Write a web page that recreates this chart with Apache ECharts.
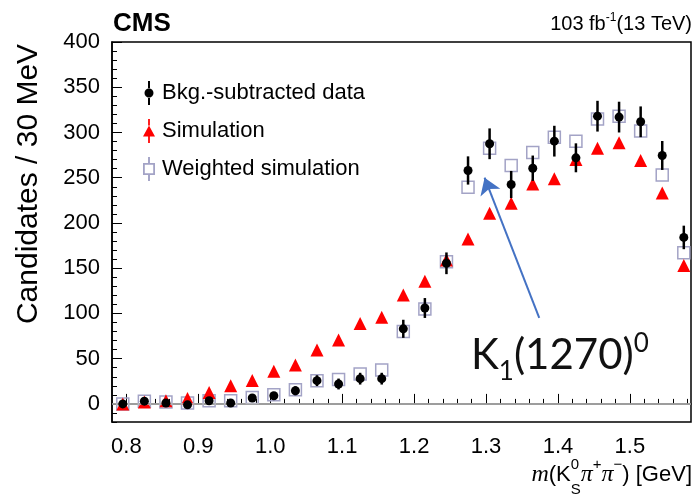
<!DOCTYPE html>
<html>
<head>
<meta charset="utf-8">
<script src="https://cdn.jsdelivr.net/npm/echarts@6/dist/echarts.min.js"></script>
<style>
  html, body { margin: 0; padding: 0; background: #fff; }
  #chart { width: 695px; height: 502px; }
</style>
</head>
<body>
<div id="chart"></div>
<script>
// bin centres, 30 MeV bins
var massBins = [0.795, 0.825, 0.855, 0.885, 0.915, 0.945, 0.975, 1.005, 1.035, 1.065, 1.095, 1.125, 1.155, 1.185,
  1.215, 1.245, 1.275, 1.305, 1.335, 1.365, 1.395, 1.425, 1.455, 1.485, 1.515, 1.545, 1.575]
// background-subtracted data + errors
var dataVals = [0, 3, 1, -1, 3.5, 1, 6.5, 9, 14.6, 25.7, 22, 27.9, 27.9, 83, 106, 155.4,
  258, 287.5, 242.5, 260.5, 290.4, 272, 318, 317, 311.8, 274.6, 184]
var dataErr = [4, 4, 4, 4, 4, 4, 4, 4, 5, 6, 6, 6.5, 6.5, 10, 11, 12,
  15.6, 17, 15, 14, 17, 16, 17, 17, 17, 16, 13]
// simulation
var simVals = [0, 2, 3.5, 6, 12.7, 20, 26, 36, 43, 59.6, 70.7, 89, 95.7, 120.5, 135.5, 159,
  182.4, 210.7, 221.8, 243, 248.8, 270, 282.6, 288.6, 269, 233, 153]
// weighted simulation
var weightedVals = [0, 3, 2, 1, 3.5, 3.5, 7, 10, 15.6, 25.7, 27, 33, 37.5, 80, 105, 157,
  239.5, 282.6, 263.5, 278, 294.8, 290.4, 315, 318, 301.5, 253, 167]

var xMajorTicks = [0.8, 0.9, 1.0, 1.1, 1.2, 1.3, 1.4, 1.5]
var yMajorTicks = [0, 50, 100, 150, 200, 250, 300, 350, 400]

var FONT = '"Liberation Sans", Arial, sans-serif'
var SERIF = '"Liberation Serif", "Times New Roman", serif'

function pts(vals) {
  return massBins.map(function (m, i) { return [m, vals[i]] })
}

// legend icons (12 x 24 box)
var iconData = 'path://M5,0H7V8H5Z M5,16H7V24H5Z M1.5,12A4.5,4.5 0 1,0 10.5,12A4.5,4.5 0 1,0 1.5,12Z'
var iconSim = 'path://M5.2,1H6.8V7H5.2Z M0.5,17L6,7L11.5,17Z M5.2,17H6.8V23H5.2Z'
var iconWeighted = 'path://M1,7H11V8.5H1Z M1,15.5H11V17H1Z M1,7H2.5V17H1Z M9.5,7H11V17H9.5Z M5.2,2H6.8V7H5.2Z M5.2,17H6.8V22H5.2Z'

var chart = echarts.init(document.getElementById('chart'))

chart.setOption({
  animation: false,
  grid: { left: 112, right: 4, top: 42, bottom: 80, show: true, borderColor: '#000', borderWidth: 1.5 },
  legend: {
    orient: 'vertical',
    left: 138,
    top: 76,
    itemWidth: 12,
    itemHeight: 24,
    itemGap: 14,
    selectedMode: false,
    textStyle: { fontSize: 22, color: '#000', fontFamily: FONT, padding: [0, 0, 0, 2] },
    data: [
      { name: 'Bkg.-subtracted data', icon: iconData },
      { name: 'Simulation', icon: iconSim },
      { name: 'Weighted simulation', icon: iconWeighted, itemStyle: { color: '#a3a3c6', borderWidth: 0 } }
    ]
  },
  xAxis: [
    {
      type: 'value',
      min: 0.78,
      max: 1.585,
      interval: 0.02,
      axisLine: { lineStyle: { color: '#000', width: 1.5 } },
      axisTick: { inside: true, length: 5, lineStyle: { color: '#000' } },
      splitLine: { show: false },
      axisLabel: {
        margin: 14, fontSize: 22, color: '#000', fontFamily: FONT,
        showMinLabel: false, showMaxLabel: false,
        formatter: function (v) {
          return Math.abs(v * 10 - Math.round(v * 10)) < 1e-6 ? v.toFixed(1) : ''
        }
      }
    },
    {
      // only for the long ticks
      type: 'value', position: 'bottom',
      min: 0.78, max: 1.585,
      axisLine: { show: false },
      axisLabel: { show: false },
      splitLine: { show: false },
      axisTick: { inside: true, length: 10, lineStyle: { color: '#000' }, customValues: xMajorTicks }
    }
  ],
  yAxis: [
    {
      type: 'value',
      min: -20,
      max: 400,
      interval: 10,
      axisLine: { show: true, lineStyle: { color: '#000', width: 1.5 } },
      axisTick: { show: true, inside: true, length: 5, lineStyle: { color: '#000' } },
      splitLine: { show: false },
      axisLabel: {
        margin: 12, fontSize: 22, color: '#000', fontFamily: FONT,
        formatter: function (v) { return (v >= 0 && v % 50 === 0) ? String(v) : '' }
      }
    },
    {
      type: 'value', position: 'left',
      min: -20, max: 400,
      axisLine: { show: false },
      axisLabel: { show: false },
      splitLine: { show: false },
      axisTick: { show: true, inside: true, length: 10, lineStyle: { color: '#000' }, customValues: yMajorTicks }
    }
  ],
  series: [
    {
      name: 'Weighted simulation',
      type: 'scatter',
      symbol: 'rect',
      symbolSize: 12,
      z: 2,
      itemStyle: { color: 'rgba(255,255,255,0)', borderColor: '#a3a3c6', borderWidth: 1.5, opacity: 1 },
      data: pts(weightedVals),
      markLine: {
        silent: true,
        symbol: ['none', 'none'],
        label: { show: false },
        lineStyle: { color: '#bdbdbd', width: 1.5, type: 'solid' },
        data: [{ yAxis: 0 }]
      }
    },
    {
      name: 'Simulation',
      type: 'scatter',
      symbol: 'triangle',
      symbolSize: 13,
      z: 3,
      itemStyle: { color: '#ff0000', opacity: 1 },
      data: pts(simVals)
    },
    {
      name: 'dataErr',
      type: 'custom',
      z: 4,
      encode: { x: 0, y: 1 },
      renderItem: function (params, api) {
        var x = api.value(0), y = api.value(1), e = api.value(2)
        var top = api.coord([x, y + e])
        var bot = api.coord([x, y - e])
        return {
          type: 'line',
          shape: { x1: top[0], y1: top[1], x2: bot[0], y2: bot[1] },
          style: { stroke: '#000', lineWidth: 2.5 }
        }
      },
      data: massBins.map(function (m, i) { return [m, dataVals[i], dataErr[i]] })
    },
    {
      name: 'Bkg.-subtracted data',
      type: 'scatter',
      symbol: 'circle',
      symbolSize: 9,
      z: 5,
      itemStyle: { color: '#000', opacity: 1 },
      data: pts(dataVals),
      // arrow pointing at the K1(1270) bump
      markLine: {
        silent: true,
        symbol: ['none', 'arrow'],
        symbolSize: 16,
        label: { show: false },
        lineStyle: { color: '#4472c4', width: 2, type: 'solid' },
        data: [[{ coord: [1.374, 95] }, { coord: [1.298, 250] }]]
      }
    }
  ],
  graphic: [
    {
      type: 'text', left: 113, top: 11,
      style: { text: 'CMS', font: 'bold 26px ' + FONT, fill: '#000' }
    },
    {
      type: 'text', right: 3, top: 12,
      style: {
        text: '103 fb{sup|-1}(13 TeV)',
        font: '20px ' + FONT, fill: '#000', lineHeight: 24,
        rich: { sup: { fontSize: 12, fontFamily: FONT, verticalAlign: 'top', lineHeight: 24 } }
      }
    },
    {
      type: 'text', x: 29, y: 184, rotation: Math.PI / 2,
      style: {
        text: 'Candidates / 30 MeV', font: '30px ' + FONT, fill: '#000',
        textAlign: 'center', textVerticalAlign: 'middle'
      }
    },
    {
      type: 'text', right: 3, top: 453,
      style: {
        text: '{it|m}{n|(K}{s0|0}{sb|S}{it|\u03c0}{sp|+}{it|\u03c0}{sp|\u2212}{n|) [GeV]}',
        fill: '#000',
        rich: {
          n: { fontSize: 22, fontFamily: FONT, lineHeight: 44 },
          it: { fontSize: 24, fontFamily: SERIF, fontStyle: 'italic', lineHeight: 44 },
          s0: { fontSize: 15, fontFamily: FONT, verticalAlign: 'top', lineHeight: 44, width: 0.01, padding: [4, 0, 0, 0] },
          sb: { fontSize: 15, fontFamily: FONT, verticalAlign: 'bottom', lineHeight: 44 },
          sp: { fontSize: 15, fontFamily: FONT, verticalAlign: 'top', lineHeight: 44, padding: [4, 0, 0, 0] }
        }
      }
    },
    {
      type: 'text', left: 471, top: 325,
      style: {
        text: 'K{sub|1}(1270){sup|0}',
        font: '42px Lato', fill: '#111', lineHeight: 60,
        rich: {
          sub: { fontSize: 26, fontFamily: 'Lato', verticalAlign: 'bottom', lineHeight: 60 },
          sup: { fontSize: 26, fontFamily: 'Lato', verticalAlign: 'top', lineHeight: 60, padding: [6, 0, 0, 0] }
        }
      }
    }
  ]
})
</script>
</body>
</html>
